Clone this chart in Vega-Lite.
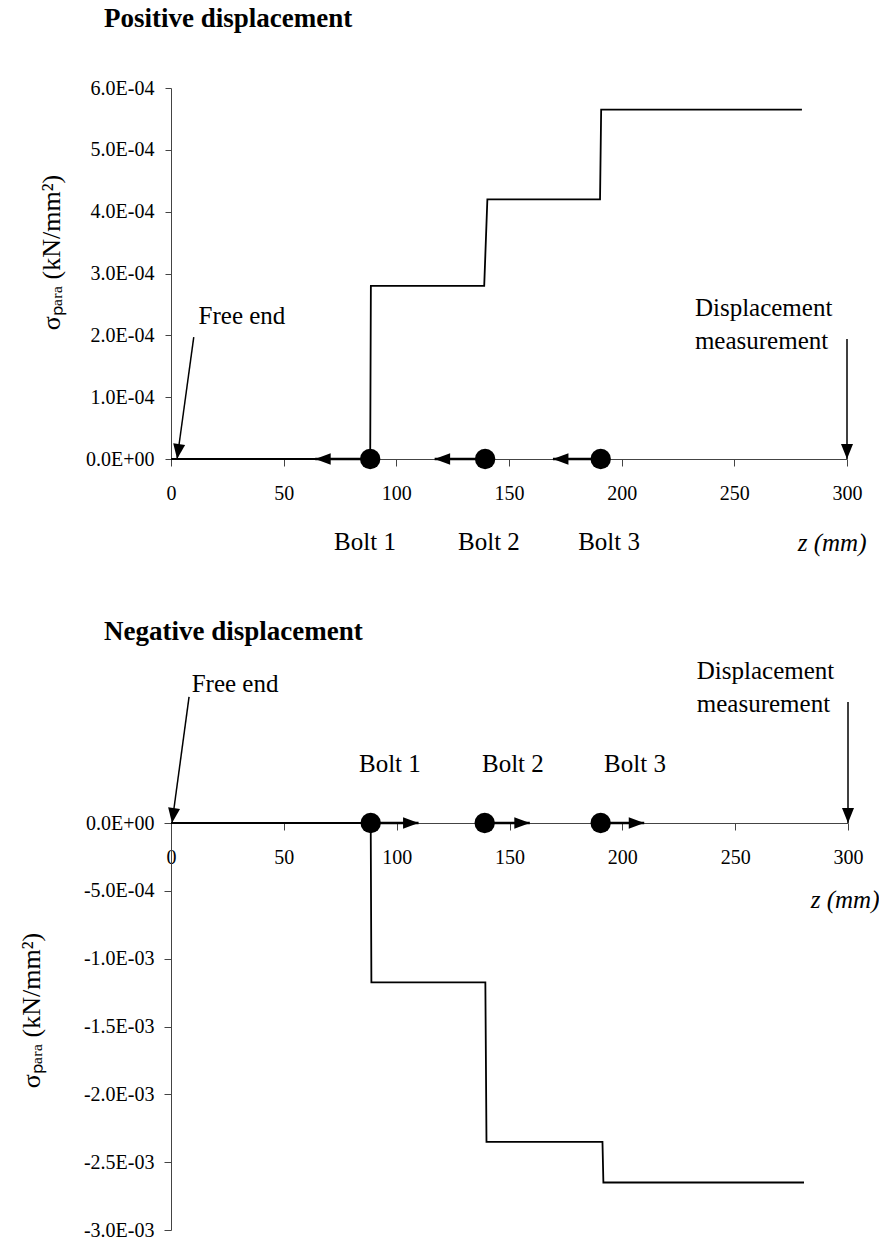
{
  "$schema": "https://vega.github.io/schema/vega-lite/v6.json",
  "background": "white",
  "padding": {"left": 18, "top": 5, "right": 0, "bottom": 0},
  "bounds": "flush",
  "spacing": 364,
  "config": {
    "view": {"stroke": null},
    "font": "Liberation Serif",
    "axis": {
      "grid": false,
      "labelFont": "Liberation Serif",
      "labelFontSize": 20,
      "labelColor": "black",
      "titleFont": "Liberation Serif",
      "titleFontSize": 25,
      "titleFontWeight": "normal",
      "titleColor": "black",
      "domainColor": "#444",
      "tickColor": "#444",
      "domainWidth": 1,
      "tickWidth": 1
    },
    "title": {"font": "Liberation Serif", "fontSize": 27, "fontWeight": "bold", "color": "black", "baseline": "alphabetic"}
  },
  "vconcat": [
    {
      "width": 676,
      "height": 371,
      "title": {"text": "Positive displacement", "anchor": "start", "frame": "group", "dx": -67, "offset": 45},
      "layer": [
        {
          "data": {"values": [
            {"i": 0, "z": 0, "s": 0},
            {"i": 1, "z": 88.4, "s": 0},
            {"i": 2, "z": 88.7, "s": 0.00028},
            {"i": 3, "z": 139.0, "s": 0.00028},
            {"i": 4, "z": 140.4, "s": 0.00042},
            {"i": 5, "z": 190.4, "s": 0.00042},
            {"i": 6, "z": 190.9, "s": 0.000565},
            {"i": 7, "z": 280, "s": 0.000565}
          ]},
          "mark": {"type": "line", "color": "black", "strokeWidth": 1.8, "clip": false},
          "encoding": {
            "x": {"field": "z", "type": "quantitative", "scale": {"domain": [0, 300], "nice": false, "zero": false},
                  "axis": {"values": [0, 50, 100, 150, 200, 250, 300], "title": "z (mm)", "titleFontStyle": "italic", "titleAlign": "right", "titleX": 695, "titleY": 91, "titleBaseline": "alphabetic", "tickSize": 7, "labelPadding": 17, "labelFlush": false}},
            "y": {"field": "s", "type": "quantitative", "scale": {"domain": [0, 0.0006], "nice": false, "zero": false},
                  "axis": {"values": [0, 0.0001, 0.0002, 0.0003, 0.0004, 0.0005, 0.0006],
                           "labelExpr": "datum.value == 0 ? '0.0E+00' : (datum.value < 0 ? '-' : '') + format(abs(datum.value) / pow(10, floor(log(abs(datum.value)) / LN10 + 1e-9)), '.1f') + 'E-0' + (-floor(log(abs(datum.value)) / LN10 + 1e-9))",
                           "title": "σₚₐᵣₐ (kN/mm²)", "titleFontSize": 26, "titleAngle": 270, "titleX": -112, "titleY": 164, "titleBaseline": "alphabetic", "titleAlign": "center", "tickSize": 6, "labelPadding": 11}},
            "order": {"field": "i", "type": "quantitative"}
          }
        },
        {
          "data": {"values": [
            {"bolt": "Bolt 1", "z": 88.4, "tip": 64, "s": 0},
            {"bolt": "Bolt 2", "z": 139.4, "tip": 117, "s": 0},
            {"bolt": "Bolt 3", "z": 190.7, "tip": 169.5, "s": 0}
          ]},
          "layer": [
            {"mark": {"type": "rule", "color": "black", "strokeWidth": 2.5, "clip": false},
             "encoding": {"x": {"field": "z", "type": "quantitative"}, "x2": {"field": "tip"}, "y": {"field": "s", "type": "quantitative"}}},
            {"mark": {"type": "point", "shape": "M0,0L2,-0.75L2,0.75Z", "size": 240, "filled": true, "color": "black", "opacity": 1, "strokeWidth": 0, "clip": false},
             "encoding": {"x": {"field": "tip", "type": "quantitative"}, "y": {"field": "s", "type": "quantitative"}}},
            {"mark": {"type": "circle", "size": 415, "color": "black", "opacity": 1, "clip": false},
             "encoding": {"x": {"field": "z", "type": "quantitative"}, "y": {"field": "s", "type": "quantitative"}}}
          ]
        },
        {
          "data": {"values": [
            {"t": "Bolt 1", "z": 86.1, "s": -0.000147},
            {"t": "Bolt 2", "z": 141.1, "s": -0.000147},
            {"t": "Bolt 3", "z": 194.4, "s": -0.000147},
            {"t": "Free end", "z": 31.5, "s": 0.000218}
          ]},
          "mark": {"type": "text", "font": "Liberation Serif", "fontSize": 25, "color": "black", "align": "center", "baseline": "alphabetic", "clip": false},
          "encoding": {"x": {"field": "z", "type": "quantitative"}, "y": {"field": "s", "type": "quantitative"}, "text": {"field": "t"}}
        },
        {
          "data": {"values": [{"t": "Displacement\nmeasurement", "z": 232.5, "s": 0.000231}]},
          "mark": {"type": "text", "font": "Liberation Serif", "fontSize": 25, "color": "black", "align": "left", "baseline": "alphabetic", "lineBreak": "\n", "lineHeight": 33, "clip": false},
          "encoding": {"x": {"field": "z", "type": "quantitative"}, "y": {"field": "s", "type": "quantitative"}, "text": {"field": "t"}}
        },
        {
          "data": {"values": [
            {"z": 10.1, "s": 0.000197, "z2": 2.7, "s2": 0},
            {"z": 300, "s": 0.000194, "z2": 300, "s2": 0}
          ]},
          "mark": {"type": "rule", "color": "black", "strokeWidth": 1.5, "clip": false},
          "encoding": {"x": {"field": "z", "type": "quantitative"}, "y": {"field": "s", "type": "quantitative"}, "x2": {"field": "z2"}, "y2": {"field": "s2"}}
        },
        {
          "data": {"values": [{"z": 2.7, "s": 0}]},
          "mark": {"type": "point", "shape": "M0,0L-0.8,-2L0.8,-2Z", "size": 225, "angle": 8, "filled": true, "color": "black", "opacity": 1, "strokeWidth": 0, "clip": false},
          "encoding": {"x": {"field": "z", "type": "quantitative"}, "y": {"field": "s", "type": "quantitative"}}
        },
        {
          "data": {"values": [{"z": 300, "s": 0}]},
          "mark": {"type": "point", "shape": "M0,0L-0.8,-2L0.8,-2Z", "size": 225, "filled": true, "color": "black", "opacity": 1, "strokeWidth": 0, "clip": false},
          "encoding": {"x": {"field": "z", "type": "quantitative"}, "y": {"field": "s", "type": "quantitative"}}
        }
      ]
    },
    {
      "width": 677,
      "height": 407,
      "title": {"text": "Negative displacement", "anchor": "start", "frame": "group", "dx": -67, "offset": 13},
      "layer": [
        {
          "data": {"values": [
            {"i": 0, "z": 0, "s": 0},
            {"i": 1, "z": 88.5, "s": 0},
            {"i": 2, "z": 88.8, "s": -0.001175},
            {"i": 3, "z": 139.3, "s": -0.001175},
            {"i": 4, "z": 139.8, "s": -0.00235},
            {"i": 5, "z": 191.2, "s": -0.00235},
            {"i": 6, "z": 191.6, "s": -0.00265},
            {"i": 7, "z": 280.5, "s": -0.00265}
          ]},
          "mark": {"type": "line", "color": "black", "strokeWidth": 1.8, "clip": false},
          "encoding": {
            "x": {"field": "z", "type": "quantitative", "scale": {"domain": [0, 300], "nice": false, "zero": false},
                  "axis": {"values": [0, 50, 100, 150, 200, 250, 300], "offset": -407, "title": "z (mm)", "titleFontStyle": "italic", "titleAlign": "right", "titleX": 708, "titleY": 84, "titleBaseline": "alphabetic", "tickSize": 7, "labelPadding": 17, "labelFlush": false}},
            "y": {"field": "s", "type": "quantitative", "scale": {"domain": [-0.003, 0], "nice": false, "zero": false},
                  "axis": {"values": [0, -0.0005, -0.001, -0.0015, -0.002, -0.0025, -0.003],
                           "labelExpr": "datum.value == 0 ? '0.0E+00' : (datum.value < 0 ? '-' : '') + format(abs(datum.value) / pow(10, floor(log(abs(datum.value)) / LN10 + 1e-9)), '.1f') + 'E-0' + (-floor(log(abs(datum.value)) / LN10 + 1e-9))",
                           "title": "σₚₐᵣₐ (kN/mm²)", "titleFontSize": 26, "titleAngle": 270, "titleX": -132, "titleY": 187, "titleBaseline": "alphabetic", "titleAlign": "center", "tickSize": 7, "labelPadding": 10}},
            "order": {"field": "i", "type": "quantitative"}
          }
        },
        {
          "data": {"values": [
            {"bolt": "Bolt 1", "z": 88.5, "tip": 109.7, "s": 0},
            {"bolt": "Bolt 2", "z": 139, "tip": 159, "s": 0},
            {"bolt": "Bolt 3", "z": 190.4, "tip": 209.7, "s": 0}
          ]},
          "layer": [
            {"mark": {"type": "rule", "color": "black", "strokeWidth": 2.5, "clip": false},
             "encoding": {"x": {"field": "z", "type": "quantitative"}, "x2": {"field": "tip"}, "y": {"field": "s", "type": "quantitative"}}},
            {"mark": {"type": "point", "shape": "M0,0L-2,-0.75L-2,0.75Z", "size": 240, "filled": true, "color": "black", "opacity": 1, "strokeWidth": 0, "clip": false},
             "encoding": {"x": {"field": "tip", "type": "quantitative"}, "y": {"field": "s", "type": "quantitative"}}},
            {"mark": {"type": "circle", "size": 415, "color": "black", "opacity": 1, "clip": false},
             "encoding": {"x": {"field": "z", "type": "quantitative"}, "y": {"field": "s", "type": "quantitative"}}}
          ]
        },
        {
          "data": {"values": [
            {"t": "Bolt 1", "z": 97.0, "s": 0.000376},
            {"t": "Bolt 2", "z": 151.5, "s": 0.000376},
            {"t": "Bolt 3", "z": 205.6, "s": 0.000376},
            {"t": "Free end", "z": 28.4, "s": 0.000966}
          ]},
          "mark": {"type": "text", "font": "Liberation Serif", "fontSize": 25, "color": "black", "align": "center", "baseline": "alphabetic", "clip": false},
          "encoding": {"x": {"field": "z", "type": "quantitative"}, "y": {"field": "s", "type": "quantitative"}, "text": {"field": "t"}}
        },
        {
          "data": {"values": [{"t": "Displacement\nmeasurement", "z": 233, "s": 0.001062}]},
          "mark": {"type": "text", "font": "Liberation Serif", "fontSize": 25, "color": "black", "align": "left", "baseline": "alphabetic", "lineBreak": "\n", "lineHeight": 33, "clip": false},
          "encoding": {"x": {"field": "z", "type": "quantitative"}, "y": {"field": "s", "type": "quantitative"}, "text": {"field": "t"}}
        },
        {
          "data": {"values": [
            {"z": 8.0, "s": 0.000929, "z2": 0.44, "s2": 0},
            {"z": 300, "s": 0.000892, "z2": 300, "s2": 0}
          ]},
          "mark": {"type": "rule", "color": "black", "strokeWidth": 1.5, "clip": false},
          "encoding": {"x": {"field": "z", "type": "quantitative"}, "y": {"field": "s", "type": "quantitative"}, "x2": {"field": "z2"}, "y2": {"field": "s2"}}
        },
        {
          "data": {"values": [{"z": 0.44, "s": 0}]},
          "mark": {"type": "point", "shape": "M0,0L-0.8,-2L0.8,-2Z", "size": 225, "angle": 8, "filled": true, "color": "black", "opacity": 1, "strokeWidth": 0, "clip": false},
          "encoding": {"x": {"field": "z", "type": "quantitative"}, "y": {"field": "s", "type": "quantitative"}}
        },
        {
          "data": {"values": [{"z": 300, "s": 0}]},
          "mark": {"type": "point", "shape": "M0,0L-0.8,-2L0.8,-2Z", "size": 225, "filled": true, "color": "black", "opacity": 1, "strokeWidth": 0, "clip": false},
          "encoding": {"x": {"field": "z", "type": "quantitative"}, "y": {"field": "s", "type": "quantitative"}}
        }
      ]
    }
  ]
}
